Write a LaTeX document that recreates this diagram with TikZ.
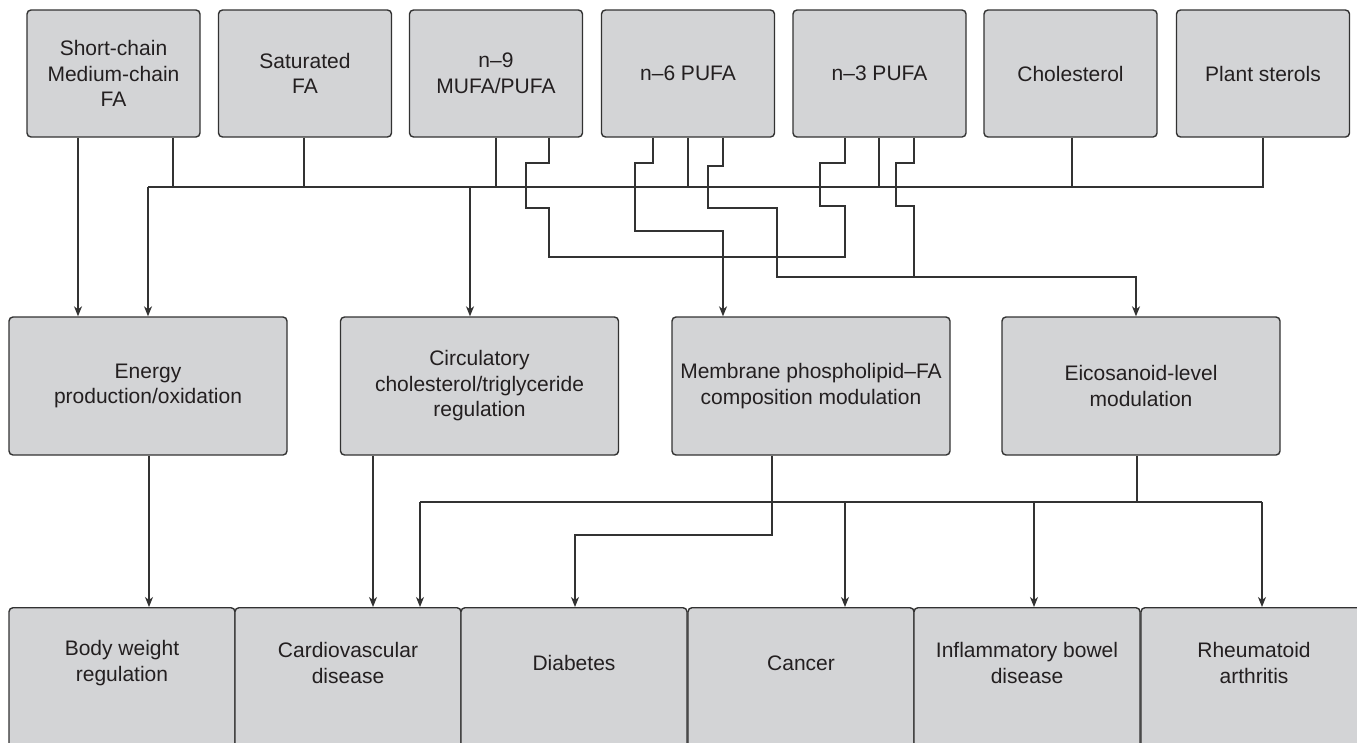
\documentclass[tikz,border=0pt]{standalone}
\usepackage{fontspec}
\setmainfont{Liberation Sans}
\usetikzlibrary{arrows.meta}
\definecolor{boxfill}{RGB}{211,212,214}
\definecolor{linec}{RGB}{50,50,50}
\definecolor{txtc}{RGB}{35,31,32}
\newcommand{\diafont}{\fontsize{21}{25.5}\selectfont}
\tikzset{
  box/.style={draw=linec, fill=boxfill, rounded corners=4pt, line width=1.4pt,
    align=center, font=\diafont, text=txtc, inner sep=0pt},
  topbox/.style={box, minimum width=173pt, minimum height=127pt},
  midbox/.style={box, minimum width=278pt, minimum height=138pt},
  botbox/.style={box, minimum width=226pt, minimum height=200pt, anchor=north},
  bottxt/.style={align=center, font=\diafont, text=txtc, inner sep=0pt},
  conn/.style={draw=linec, line width=1.2pt},
  arr/.style={conn, -{Stealth[length=10pt,width=8pt,inset=3pt]}}
}
\begin{document}
\begin{tikzpicture}[x=1pt,y=-1pt]
\useasboundingbox (0,0) rectangle (1357,742);
\clip (0,0) rectangle (1357,742);
% top row
\node[topbox] (t1) at (113.5,73.5) {Short-chain\\Medium-chain\\FA};
\node[topbox] (t2) at (305,73.5) {Saturated\\FA};
\node[topbox] (t3) at (496,73.5) {n–9\\MUFA/PUFA};
\node[topbox] (t4) at (688,73.5) {n–6 PUFA};
\node[topbox] (t5) at (879.5,73.5) {n–3 PUFA};
\node[topbox] (t6) at (1070.5,73.5) {Cholesterol};
\node[topbox] (t7) at (1263,73.5) {Plant sterols};
% middle row
\node[midbox] (en) at (148,386) {Energy\\production/oxidation};
\node[midbox] (ci) at (479.5,386) {Circulatory\\cholesterol/triglyceride\\regulation};
\node[midbox] (me) at (811,386) {Membrane phospholipid–FA\\composition modulation};
\node[midbox] (ei) at (1141,386) {Eicosanoid-level\\modulation};
% bottom row
\node[botbox] (bw) at (122,607) {};
\node[botbox] (cv) at (348,607) {};
\node[botbox] (di) at (574,607) {};
\node[botbox] (ca) at (801,607) {};
\node[botbox] (ib) at (1027,607) {};
\node[botbox] (ra) at (1254,607) {};
\node[bottxt] (bwt) at (122,663) {Body weight\\regulation};
\node[bottxt] (cvt) at (348,663) {Cardiovascular\\disease};
\node[bottxt] (dit) at (574,663) {Diabetes};
\node[bottxt] (cat) at (801,663) {Cancer};
\node[bottxt] (ibt) at (1027,663) {Inflammatory bowel\\disease};
\node[bottxt] (rat) at (1254,663) {Rheumatoid\\arthritis};
% coordinates
\coordinate (busL) at (148,187);
\coordinate (busR) at (1263,187);
\coordinate (lowL) at (420,502);
\coordinate (lowR) at (1262,502);
% top connectors
\draw[arr] (78,0 |- t1.south) -- (78,0 |- en.north);
\draw[conn] (173,0 |- t1.south) -- (173,187);
\draw[conn] (t2.south) ++(-1,0) -- (304,187);
\draw[conn] (496,0 |- t3.south) -- (496,187);
\draw[conn] (688,0 |- t4.south) -- (688,187);
\draw[conn] (879,0 |- t5.south) -- (879,187);
\draw[conn] (1072,0 |- t6.south) -- (1072,187);
\draw[conn] (1263,0 |- t7.south) -- (busR) -- (busL);
\draw[arr] (busL) -- (148,0 |- en.north);
\draw[arr] (470,187) -- (470,0 |- ci.north);
% n-9 / n-3 path
\draw[conn] (549,0 |- t3.south) -- (549,163) -- (526,163) -- (526,208) -- (549,208)
  -- (549,257) -- (845,257) -- (845,206) -- (820,206) -- (820,163) -- (845,163)
  -- (845,0 |- t5.south);
% n-6 to membrane
\draw[arr] (653,0 |- t4.south) -- (653,163) -- (635,163) -- (635,231) -- (723,231)
  -- (723,0 |- me.north);
% n-6 to eicosanoid
\draw[arr] (723,0 |- t4.south) -- (723,166) -- (708,166) -- (708,208) -- (777,208)
  -- (777,277) -- (1136,277) -- (1136,0 |- ei.north);
% n-3 to eicosanoid
\draw[conn] (914,0 |- t5.south) -- (914,163) -- (896,163) -- (896,206) -- (914,206)
  -- (914,277);
% lower connectors
\draw[arr] (149,0 |- en.south) -- (149,0 |- bw.north);
\draw[arr] (373,0 |- ci.south) -- (373,0 |- cv.north);
\draw[arr] (772,0 |- me.south) -- (772,535) -- (575,535) -- (575,0 |- di.north);
\draw[conn] (1137,0 |- ei.south) -- (1137,502);
\draw[conn] (lowL) -- (lowR);
\draw[arr] (lowL) -- (420,0 |- cv.north);
\draw[arr] (845,502) -- (845,0 |- ca.north);
\draw[arr] (1034,502) -- (1034,0 |- ib.north);
\draw[arr] (lowR) -- (1262,0 |- ra.north);
\end{tikzpicture}
\end{document}
